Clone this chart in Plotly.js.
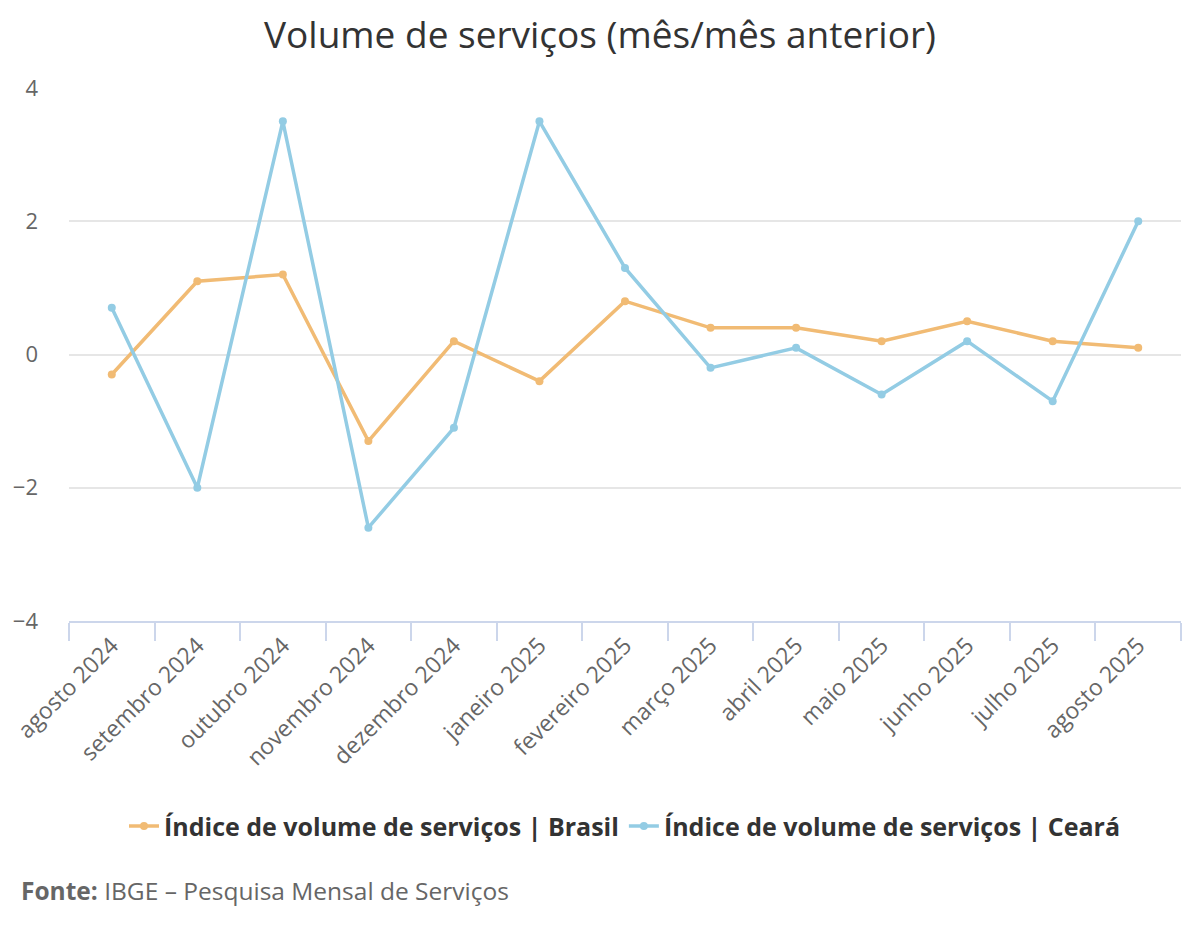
<!DOCTYPE html>
<html>
<head>
<meta charset="utf-8">
<script src="https://cdn.plot.ly/plotly-3.0.1.min.js"></script>
<style>html,body{margin:0;padding:0;background:#fff}#chart{width:1200px;height:930px}</style>
</head>
<body>
<div id="chart"></div>
<script>
const categories = ["agosto 2024","setembro 2024","outubro 2024","novembro 2024","dezembro 2024","janeiro 2025","fevereiro 2025","março 2025","abril 2025","maio 2025","junho 2025","julho 2025","agosto 2025"];
const brasil = [-0.3, 1.1, 1.2, -1.3, 0.2, -0.4, 0.8, 0.4, 0.4, 0.2, 0.5, 0.2, 0.1];
const ceara = [0.7, -2.0, 3.5, -2.6, -1.1, 3.5, 1.3, -0.2, 0.1, -0.6, 0.2, -0.7, 2.0];
const yTicks = [-4, -2, 0, 2, 4];

const font = "'Open Sans', 'DejaVu Sans', sans-serif";
const traces = [
  {x: categories, y: brasil, name: "Índice de volume de serviços | Brasil", type: "scatter", mode: "lines+markers",
   line: {color: "#f1bb74", width: 3.5}, marker: {color: "#f1bb74", size: 8}},
  {x: categories, y: ceara, name: "Índice de volume de serviços | Ceará", type: "scatter", mode: "lines+markers",
   line: {color: "#93cce4", width: 3.5}, marker: {color: "#93cce4", size: 8}}
];
const layout = {
  width: 1200, height: 930,
  margin: {l: 69, r: 19, t: 88, b: 309},
  paper_bgcolor: "#fff", plot_bgcolor: "#fff",
  font: {family: font, color: "#666"},
  title: {text: "Volume de serviços (mês/mês anterior)", font: {family: font, size: 37, color: "#333"}, x: 0.5, xanchor: "center", y: 0.962, yanchor: "middle"},
  showlegend: true,
  legend: {orientation: "h", x: 0.5, xanchor: "center", y: -0.385, yanchor: "middle", font: {family: font, size: 25, color: "#333", weight: "bold"}, itemwidth: 30, tracegroupgap: 0},
  xaxis: {type: "category", tickson: "boundaries", ticks: "outside", ticklen: 18, tickcolor: "#ccd6eb", tickwidth: 2,
    showline: true, linecolor: "#ccd6eb", linewidth: 2, showgrid: false, tickangle: -45,
    tickfont: {family: font, size: 23, color: "#666"}, range: [-0.5, 12.5], fixedrange: true},
  yaxis: {range: [-4, 4], tickvals: yTicks, ticktext: yTicks.map(v => v < 0 ? "\u2212" + Math.abs(v) : String(v)),
    showgrid: true, gridcolor: "#e6e6e6", gridwidth: 2, zeroline: false, showline: false, ticks: "",
    ticklabelstandoff: 30, tickfont: {family: font, size: 22, color: "#666"}},
  annotations: [{xref: "paper", yref: "paper", x: -0.04, y: -0.505, xanchor: "left", yanchor: "middle", showarrow: false,
    text: "<b>Fonte:</b> IBGE – Pesquisa Mensal de Serviços", font: {family: font, size: 24.5, color: "#666"}, xshift: -6}]
};
Plotly.newPlot("chart", traces, layout, {displayModeBar: false, staticPlot: true});
</script>
</body>
</html>
